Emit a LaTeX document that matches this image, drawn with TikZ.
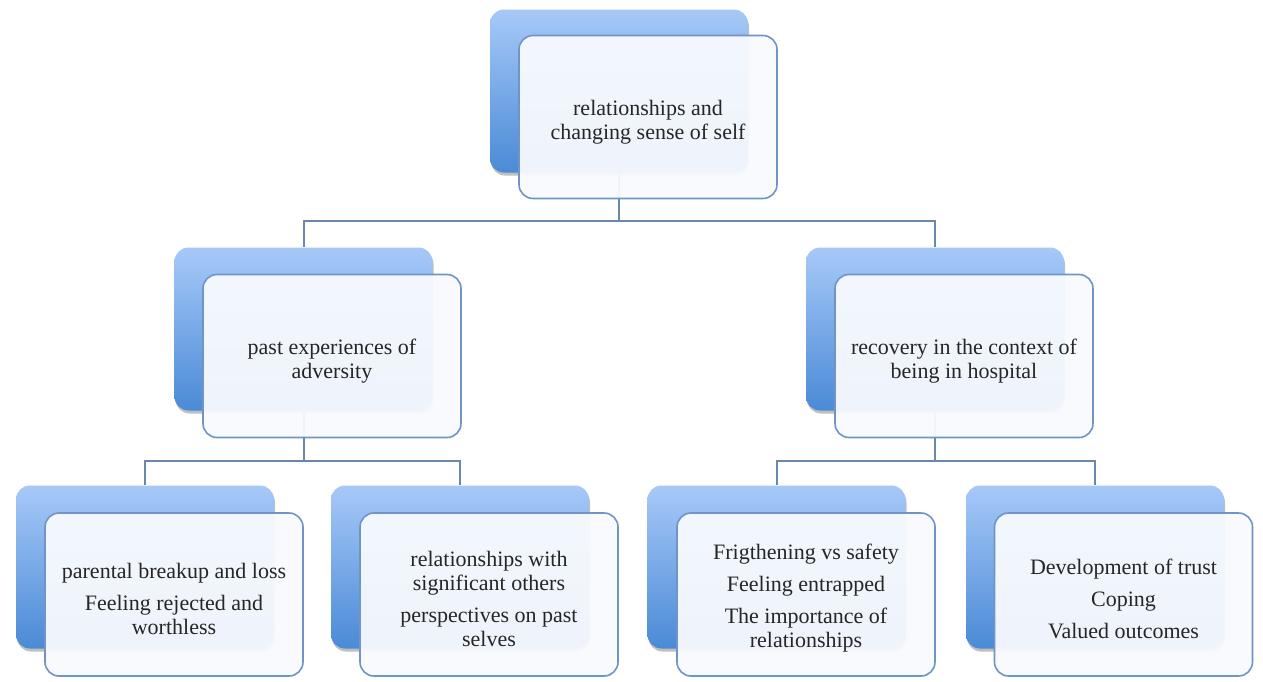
\documentclass[tikz,border=0pt]{standalone}
\usepackage{fontspec}
\setmainfont{Liberation Serif}
\usetikzlibrary{shadows}
\definecolor{boxtop}{HTML}{A7C9F8}
\definecolor{boxbottom}{HTML}{4A8AD6}
\definecolor{frontfill}{HTML}{F8FAFE}
\definecolor{edge}{HTML}{6F95C6}
\definecolor{wire}{HTML}{6A87AE}
\tikzset{
  backbox/.style={rounded corners=14pt, minimum width=258pt, minimum height=163pt,
    inner sep=0pt, top color=boxtop, bottom color=boxbottom, draw=none,
    drop shadow={shadow xshift=1pt, shadow yshift=-3pt, opacity=0.25, fill=black}},
  frontbox/.style={rounded corners=14pt, minimum width=258pt, minimum height=163pt,
    inner sep=0pt, draw=edge, line width=1.6pt, fill=frontfill, fill opacity=0.95},
  boxtext/.style={text=black!85, align=center, font=\fontsize{22}{24}\selectfont},
  wireline/.style={draw=wire, line width=2pt},
}
\begin{document}
\begin{tikzpicture}[x=1pt, y=-1pt]
\useasboundingbox[fill=white] (0,0) rectangle (1263,681);

% back boxes
\node[backbox] (b0) at (619,91) {};
\node[backbox] (b1) at (303.5,329) {};
\node[backbox] (b2) at (935,329) {};
\node[backbox] (c1) at (145,567) {};
\node[backbox] (c2) at (460,567) {};
\node[backbox] (c3) at (776.5,567) {};
\node[backbox] (c4) at (1095,567) {};

% junction points of the tree
\coordinate (j0) at (619,221);
\coordinate (j1) at (303.5,461);
\coordinate (j2) at (935,461);

% connectors
\draw[wireline] (b0.south) -- (j0) -| (b1.north);
\draw[wireline] (j0) -| (b2.north);
\draw[wireline] (b1.south) -- (j1) -| (c1.north);
\draw[wireline] (j1) -| (c2.north);
\draw[wireline] (b2.south) -- (j2) -| (c3.north);
\draw[wireline] (j2) -| (c4.north);

% front boxes and their labels
\node[frontbox] (f0) at (648,117) {};
\node[boxtext] (t0) at ([yshift=-5pt]f0.center) {relationships and\\changing sense of self};
\node[frontbox] (f1) at (332,356) {};
\node[boxtext] (t1) at ([yshift=-5pt]f1.center) {past experiences of\\adversity};
\node[frontbox] (f2) at (964,356) {};
\node[boxtext] (t2) at ([yshift=-5pt]f2.center) {recovery in the context of\\being in hospital};
\node[frontbox] (g1) at (174,594.5) {};
\node[boxtext] (u1) at ([yshift=-4pt]g1.center) {parental breakup and loss\\[8pt]Feeling rejected and\\worthless};
\node[frontbox] (g2) at (489,594.5) {};
\node[boxtext] (u2) at ([yshift=-4pt]g2.center) {relationships with\\significant others\\[8pt]perspectives on past\\selves};
\node[frontbox] (g3) at (806,594.5) {};
\node[boxtext] (u3) at ([yshift=-4pt]g3.center) {Frigthening vs safety\\[8pt]Feeling entrapped\\[8pt]The importance of\\relationships};
\node[frontbox] (g4) at (1123.5,594.5) {};
\node[boxtext] (u4) at ([yshift=-4pt]g4.center) {Development of trust\\[8pt]Coping\\[8pt]Valued outcomes};
\end{tikzpicture}
\end{document}
